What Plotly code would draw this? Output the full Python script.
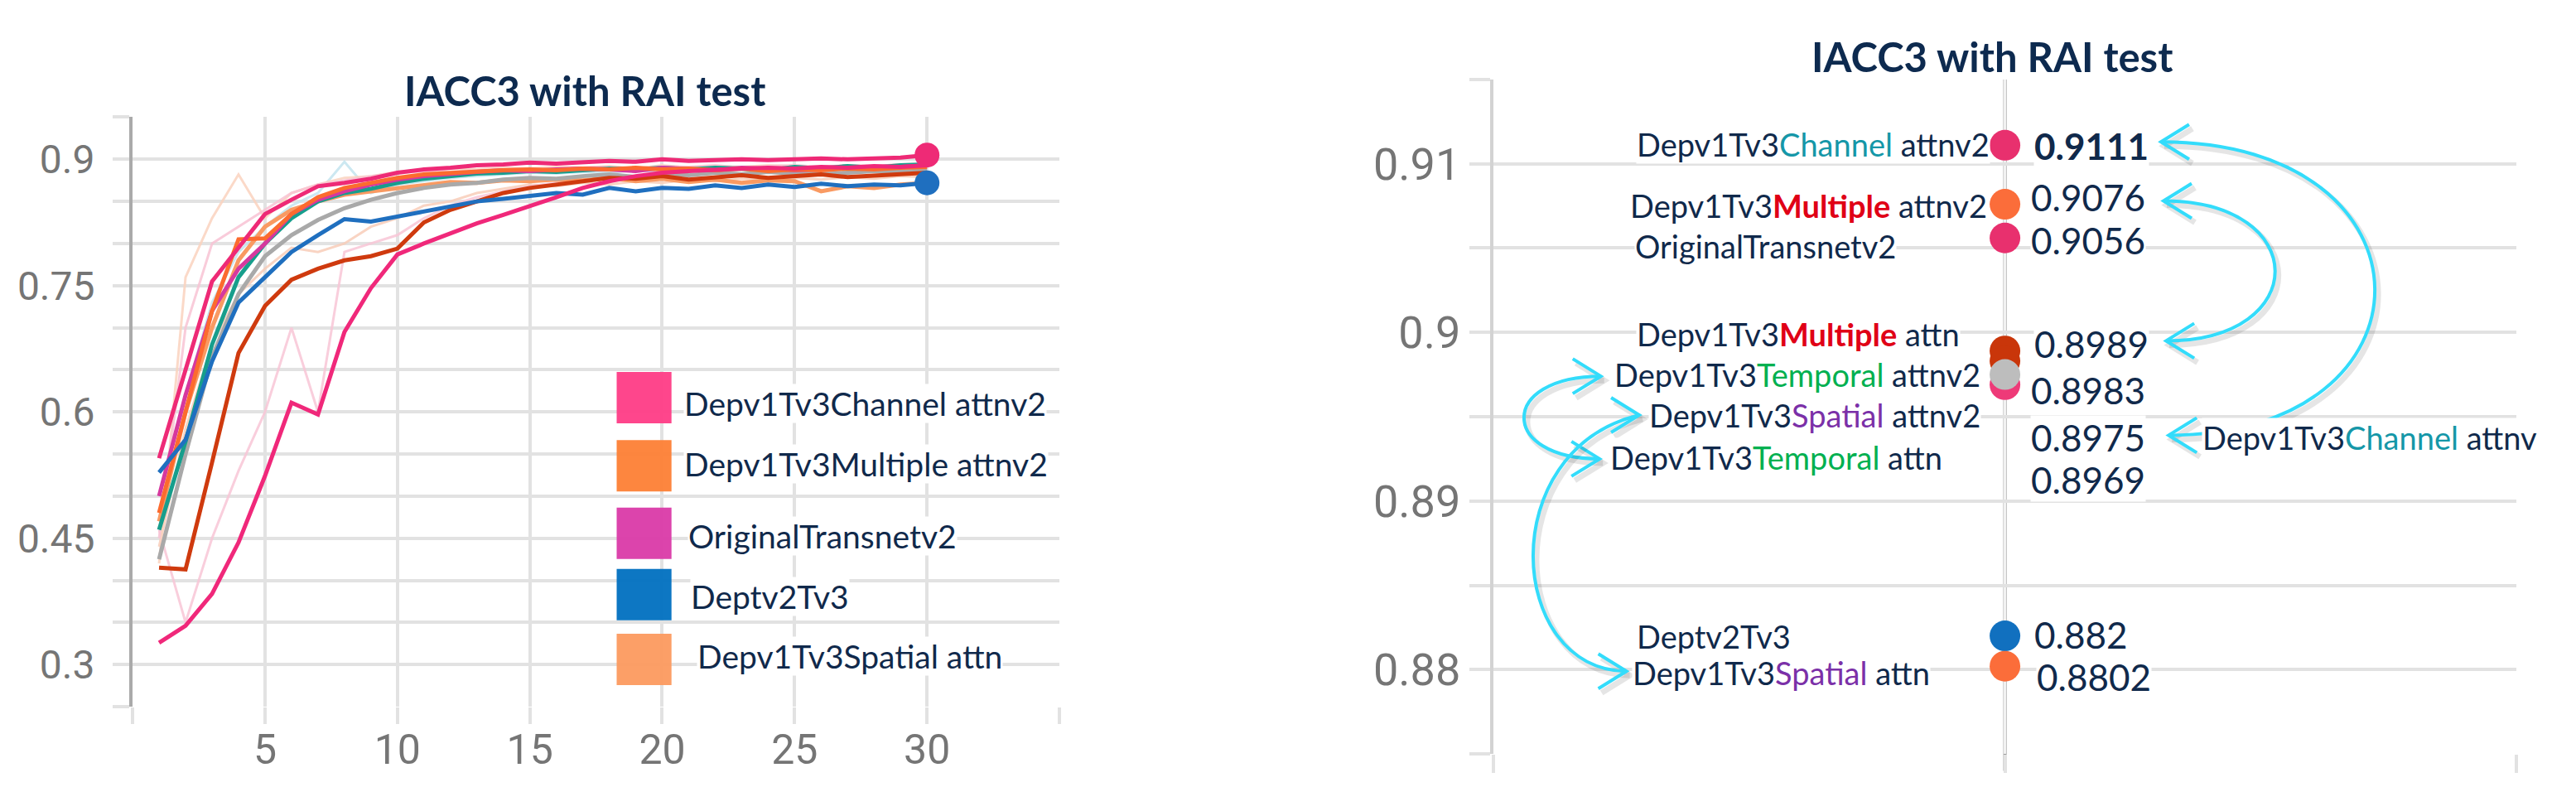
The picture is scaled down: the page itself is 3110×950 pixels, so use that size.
import plotly.graph_objects as go

# ---------------- left panel: test accuracy per epoch ----------------
epochs = list(range(1, 31))

channel_attnv2 = [0.545, 0.65, 0.755, 0.795, 0.835, 0.852, 0.868, 0.872, 0.877, 0.884,
                  0.888, 0.89, 0.893, 0.894, 0.896, 0.895, 0.897, 0.898, 0.897, 0.9,
                  0.898, 0.899, 0.9, 0.899, 0.9, 0.901, 0.9, 0.901, 0.902, 0.905]
multiple_attnv2 = [0.48, 0.6, 0.72, 0.805, 0.806, 0.835, 0.855, 0.866, 0.872, 0.878,
                   0.882, 0.884, 0.886, 0.887, 0.888, 0.887, 0.889, 0.888, 0.89, 0.888,
                   0.889, 0.887, 0.889, 0.886, 0.888, 0.887, 0.889, 0.888, 0.89, 0.891]
original_v2 = [0.5, 0.62, 0.72, 0.77, 0.8, 0.835, 0.852, 0.862, 0.87, 0.876,
               0.88, 0.883, 0.885, 0.887, 0.886, 0.888, 0.889, 0.888, 0.886, 0.89,
               0.888, 0.887, 0.89, 0.889, 0.887, 0.888, 0.89, 0.889, 0.891, 0.893]
deptv2tv3 = [0.528, 0.567, 0.66, 0.73, 0.76, 0.79, 0.81, 0.829, 0.826, 0.832,
             0.839, 0.845, 0.85, 0.853, 0.857, 0.86, 0.858, 0.866, 0.862, 0.866,
             0.865, 0.869, 0.866, 0.87, 0.867, 0.871, 0.868, 0.87, 0.869, 0.872]
spatial_attn = [0.47, 0.6, 0.7, 0.78, 0.82, 0.84, 0.85, 0.858, 0.862, 0.866,
                0.87, 0.873, 0.872, 0.875, 0.874, 0.876, 0.875, 0.878, 0.874, 0.877,
                0.873, 0.876, 0.872, 0.875, 0.874, 0.862, 0.868, 0.866, 0.87, 0.872]
multiple_attn = [0.415, 0.413, 0.54, 0.67, 0.726, 0.757, 0.77, 0.78, 0.785, 0.794,
                 0.825, 0.84, 0.85, 0.86, 0.866, 0.87, 0.874, 0.878, 0.877, 0.88,
                 0.876, 0.879, 0.881, 0.878, 0.88, 0.882, 0.879, 0.881, 0.883, 0.884]
channel_attn = [0.326, 0.346, 0.384, 0.445, 0.524, 0.611, 0.597, 0.695, 0.747, 0.787,
                0.8, 0.812, 0.824, 0.834, 0.844, 0.855, 0.866, 0.874, 0.88, 0.884,
                0.886, 0.888, 0.889, 0.89, 0.889, 0.891, 0.89, 0.892, 0.891, 0.893]
temporal_attn = [0.46, 0.565, 0.68, 0.76, 0.8, 0.83, 0.85, 0.86, 0.865, 0.872,
                 0.877, 0.88, 0.883, 0.884, 0.886, 0.885, 0.887, 0.889, 0.888, 0.89,
                 0.888, 0.89, 0.889, 0.887, 0.891, 0.889, 0.892, 0.89, 0.893, 0.894]
temporal_attnv2 = [0.425, 0.55, 0.665, 0.74, 0.785, 0.81, 0.828, 0.842, 0.852, 0.86,
                   0.866, 0.87, 0.872, 0.876, 0.878, 0.877, 0.88, 0.882, 0.879, 0.883,
                   0.881, 0.884, 0.882, 0.885, 0.883, 0.882, 0.884, 0.886, 0.885, 0.887]

# unsmoothed runs, drawn faint
raw_a = [0.42, 0.76, 0.83, 0.882, 0.83, 0.86, 0.87, 0.878, 0.88, 0.885,
         0.887, 0.889, 0.888, 0.89, 0.889, 0.891, 0.89, 0.892, 0.889, 0.893,
         0.89, 0.892, 0.891, 0.893, 0.892, 0.89, 0.893, 0.892, 0.894, 0.893]
raw_b = [0.45, 0.7, 0.8, 0.82, 0.84, 0.86, 0.87, 0.875, 0.88, 0.884,
         0.886, 0.885, 0.887, 0.888, 0.889, 0.888, 0.89, 0.891, 0.889, 0.892,
         0.891, 0.893, 0.89, 0.892, 0.893, 0.891, 0.893, 0.892, 0.894, 0.895]
raw_c = [0.46, 0.35, 0.45, 0.53, 0.6, 0.7, 0.6, 0.79, 0.8, 0.81,
         0.83, 0.845, 0.855, 0.862, 0.868, 0.872, 0.875, 0.878, 0.88, 0.882,
         0.881, 0.884, 0.883, 0.885, 0.884, 0.886, 0.885, 0.887, 0.886, 0.888]
raw_d = [0.5, 0.62, 0.73, 0.79, 0.82, 0.845, 0.86, 0.897, 0.86, 0.87,
         0.874, 0.878, 0.88, 0.882, 0.884, 0.883, 0.885, 0.884, 0.887, 0.885,
         0.886, 0.884, 0.887, 0.885, 0.888, 0.884, 0.886, 0.885, 0.887, 0.886]
raw_e = [0.44, 0.58, 0.68, 0.74, 0.77, 0.795, 0.79, 0.8, 0.82, 0.83,
         0.845, 0.85, 0.86, 0.865, 0.87, 0.868, 0.872, 0.87, 0.874, 0.872,
         0.876, 0.874, 0.877, 0.875, 0.878, 0.876, 0.879, 0.877, 0.88, 0.879]

legend_names = ["Depv1Tv3Channel attnv2", "Depv1Tv3Multiple attnv2", "OriginalTransnetv2",
                "Deptv2Tv3", "Depv1Tv3Spatial attn"]
legend_colors = ["#fe3c86", "#fd7f35", "#da3aa8", "#0070c0", "#fc9a5f"]

# ---------------- right panel: best score at epoch 30 ----------------
best_epoch = 30
best_values = [0.9111, 0.9076, 0.9056, 0.8989, 0.8983, 0.8969, 0.8975, 0.882, 0.8802]
best_colors = ["#e8306e", "#fb6d3a", "#e8306e", "#c9360a", "#c9360a", "#ee3a78",
               "#bdbdbd", "#1170bf", "#fb6d3a"]
best_labels = ["0.9111", "0.9076", "0.9056", "0.8989", "0.8983", "0.8969", "0.8975",
               "0.882", "0.8802"]

NAVY = "#10294b"
TEAL = "#1597a8"
RED = "#e00016"
GREEN = "#00b050"
PURPLE = "#7b30a8"


def part(word, color, bold=False):
    w = f"<b>{word}</b>" if bold else word
    return f'<span style="color:{color}">{w}</span>'


model_labels = [
    "Depv1Tv3" + part("Channel", TEAL) + " attnv2",
    "Depv1Tv3" + part("Multiple", RED, True) + " attnv2",
    "OriginalTransnetv2",
    "Depv1Tv3" + part("Multiple", RED, True) + " attn",
    "Depv1Tv3" + part("Temporal", GREEN) + " attnv2",
    "Depv1Tv3" + part("Spatial", PURPLE) + " attnv2",
    "Depv1Tv3" + part("Temporal", GREEN) + " attn",
    "Deptv2Tv3",
    "Depv1Tv3" + part("Spatial", PURPLE) + " attn",
]
side_label = "Depv1Tv3" + part("Channel", TEAL) + " attnv"

# ---------------- layout geometry ----------------
W, H = 3110, 950
L_DOM_X = [0.0489, 0.4087]
L_DOM_Y = [0.1105, 0.8595]
R_DOM_X = [0.5772, 0.9743]
R_DOM_Y = [0.0505, 0.9074]
R_XR = [28, 32]
R_YR = [0.875, 0.915]
PX_X2 = (R_DOM_X[1] - R_DOM_X[0]) * W / (R_XR[1] - R_XR[0])
PX_Y2 = (R_DOM_Y[1] - R_DOM_Y[0]) * H / (R_YR[1] - R_YR[0])

fig = go.Figure()

faint = [(raw_e, "#f8cdb9"), (raw_c, "#f9c6d7"), (raw_d, "#c3e4ef"),
         (raw_a, "#fbd3bf"), (raw_b, "#f8c3d4")]
for ys, c in faint:
    fig.add_trace(go.Scatter(x=epochs, y=ys, mode="lines",
                             line=dict(color=c, width=3), opacity=0.85))

main = [(spatial_attn, "#f99a62"), (temporal_attnv2, "#a9a9a9"),
        (temporal_attn, "#179e8c"), (original_v2, "#d6389e"),
        (multiple_attn, "#cf3a0e"), (multiple_attnv2, "#fc6b2e"),
        (deptv2tv3, "#1f6fbf"), (channel_attn, "#f0287a"),
        (channel_attnv2, "#ee2a76")]
for ys, c in main:
    fig.add_trace(go.Scatter(x=epochs, y=ys, mode="lines",
                             line=dict(color=c, width=5)))

for ys, c in [(channel_attnv2, "#ee2a76"), (deptv2tv3, "#1f6fbf")]:
    fig.add_trace(go.Scatter(x=[epochs[-1]], y=[ys[-1]], mode="markers",
                             marker=dict(color=c, size=30)))

fig.add_trace(go.Scatter(x=[best_epoch] * len(best_values), y=best_values,
                         mode="markers", xaxis="x2", yaxis="y2",
                         marker=dict(color=best_colors, size=37)))

shapes = []
annotations = []

# legend of left panel
leg_y = [0.617, 0.536, 0.456, 0.383, 0.306]
leg_text_y = [0.61, 0.538, 0.453, 0.381, 0.31]
leg_text_x = [20.79, 20.79, 20.95, 21.04, 21.29]
for i, (name, col) in enumerate(zip(legend_names, legend_colors)):
    shapes.append(dict(type="rect", xref="x", yref="y", x0=18.28, x1=20.35,
                       y0=leg_y[i] - 0.0305, y1=leg_y[i] + 0.0305,
                       fillcolor=col, opacity=0.95, line=dict(width=0)))
    annotations.append(dict(xref="x", yref="y", x=leg_text_x[i], y=leg_text_y[i],
                            text=name, showarrow=False, xanchor="left",
                            bgcolor="white", borderpad=0,
                            font=dict(family="Lato", size=39, color=NAVY)))

# right panel centre line at the plotted epoch
shapes.append(dict(type="line", xref="x2", yref="y2 domain", x0=best_epoch, x1=best_epoch,
                   y0=-0.025, y1=1, line=dict(color="#9c9c9c", width=4), layer="below"))

# value labels
val_y = [0.91107, 0.9080, 0.90549, 0.8993, 0.89655, 0.89129, 0.89379, 0.88207, 0.87957]
val_x = [30.11, 30.1, 30.1, 30.11, 30.1, 30.1, 30.1, 30.11, 30.12]
for i, t in enumerate(best_labels):
    txt = f"<b>{t}</b>" if i == 0 else t
    annotations.append(dict(xref="x2", yref="y2", x=val_x[i], y=val_y[i], text=txt,
                            showarrow=False, xanchor="left", bgcolor="white", borderpad=0,
                            font=dict(family="Lato", size=44, color=NAVY)))

name_y = [0.91115, 0.90754, 0.90513, 0.89992, 0.8975, 0.89509, 0.89259, 0.88198, 0.87983]
name_x = [28.557, 28.531, 28.551, 28.557, 28.47, 28.606, 28.453, 28.557, 28.541]
for i, t in enumerate(model_labels):
    annotations.append(dict(xref="x2", yref="y2", x=name_x[i], y=name_y[i], text=t,
                            showarrow=False, xanchor="left", bgcolor="white", borderpad=0,
                            font=dict(family="Lato", size=38, color=NAVY)))
annotations.append(dict(xref="x2", yref="y2", x=30.77, y=0.89379, text=side_label,
                        showarrow=False, xanchor="left", bgcolor="white", borderpad=0,
                        font=dict(family="Lato", size=38, color=NAVY)))

# titles
for x, y in [(0.2245, 0.8937), (0.7707, 0.9368)]:
    annotations.append(dict(xref="paper", yref="paper", x=x, y=y,
                            xanchor="center", yanchor="middle",
                            text="<b>IACC3 with RAI test</b>", showarrow=False,
                            font=dict(family="Lato", size=49, color="#0d2a4f")))


# cyan comparison arrows
def arc(p0, c1, c2, p3, dx=0.0, dy=0.0):
    pts = [(p[0] + dx, p[1] + dy) for p in (p0, c1, c2, p3)]
    return "M {},{} C {},{} {},{} {},{}".format(*[v for p in pts for v in p])


def chevron(x, y, d, dx=0.0, dy=0.0):
    ax = 34 / PX_X2
    ay = 21 / PX_Y2
    x += dx
    y += dy
    return f"M {x - d * ax},{y + ay} L {x},{y} L {x - d * ax},{y - ay}"


arrows = [
    ((30.62, 0.9078), (31.2, 0.9078), (31.2, 0.8995), (30.63, 0.8995), -1),
    ((30.61, 0.9113), (31.72, 0.9113), (31.72, 0.8939), (30.64, 0.8939), -1),
    ((28.42, 0.8974), (28.02, 0.8974), (28.02, 0.8925), (28.415, 0.8925), 1),
    ((28.57, 0.8951), (28.0, 0.893), (28.05, 0.88), (28.52, 0.8799), 1),
]
sdx, sdy = 4 / PX_X2, -5 / PX_Y2
for p0, c1, c2, p3, d in arrows:
    for off, col, w in [((sdx, sdy), "rgba(0,0,0,0.10)", 7), ((0, 0), "#33dcfb", 4)]:
        shapes.append(dict(type="path", xref="x2", yref="y2",
                           path=arc(p0, c1, c2, p3, *off), line=dict(color=col, width=w)))
        for p in (p0, p3):
            shapes.append(dict(type="path", xref="x2", yref="y2",
                               path=chevron(p[0], p[1], d, *off),
                               line=dict(color=col, width=w)))

GRID = "#e2e2e2"

l_yvals = [round(0.25 + 0.05 * i, 2) for i in range(15)]
l_ytext = [str(v) if v in (0.3, 0.45, 0.6, 0.75, 0.9) else "" for v in l_yvals]
r_yvals = [round(0.875 + 0.005 * i, 3) for i in range(9)]
r_ytext = [str(v) if v in (0.88, 0.89, 0.9, 0.91) else "" for v in r_yvals]

fig.update_layout(
    width=W, height=H, showlegend=False,
    margin=dict(l=0, r=0, t=0, b=0),
    paper_bgcolor="white", plot_bgcolor="white",
    xaxis=dict(domain=L_DOM_X, range=[0, 35], tickvals=list(range(0, 36, 5)),
               ticktext=["", "5", "10", "15", "20", "25", "30", ""],
               showgrid=True, gridcolor=GRID, gridwidth=4, zeroline=False,
               ticks="outside", ticklen=20, tickwidth=4, tickcolor=GRID,
               ticklabelstandoff=-12,
               tickfont=dict(family="Roboto", size=50, color="#757575"), anchor="y"),
    yaxis=dict(domain=L_DOM_Y, range=[0.25, 0.95], tickvals=l_yvals, ticktext=l_ytext,
               showgrid=True, gridcolor=GRID, gridwidth=4, zeroline=False,
               showline=True, linecolor="#aaaaaa", linewidth=4,
               ticks="outside", ticklen=20, tickwidth=4, tickcolor=GRID,
               ticklabelstandoff=12,
               tickfont=dict(family="Roboto", size=48, color="#757575"), anchor="x"),
    xaxis2=dict(domain=R_DOM_X, range=R_XR, tickvals=[28, 30, 32], ticktext=["", "", ""],
                showgrid=True, gridcolor="#f1f1f1", gridwidth=3, zeroline=False,
                ticks="outside", ticklen=22, tickwidth=4, tickcolor=GRID, anchor="y2"),
    yaxis2=dict(domain=R_DOM_Y, range=R_YR, tickvals=r_yvals, ticktext=r_ytext,
                showgrid=True, gridcolor=GRID, gridwidth=4, zeroline=False,
                showline=True, linecolor="#d3d3d3", linewidth=4,
                ticks="outside", ticklen=25, tickwidth=4, tickcolor=GRID,
                tickfont=dict(family="Roboto", size=54, color="#757575"), anchor="x2"),
    shapes=shapes,
    annotations=annotations,
)

fig.write_html("out.html")
